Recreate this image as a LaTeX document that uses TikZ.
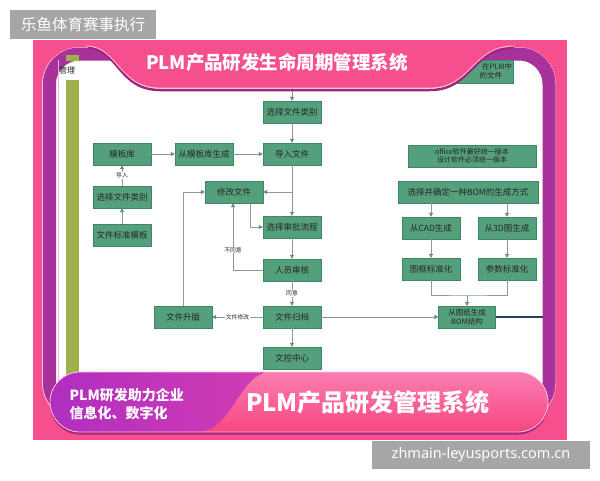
\documentclass[tikz,border=0pt]{standalone}
\usepackage{fontspec}
\setmainfont{Noto Sans CJK SC}
\newfontfamily\sitefont{Noto Sans}
\usetikzlibrary{arrows.meta,positioning}
\definecolor{plmpink}{HTML}{F64F8D}
\definecolor{plmpinklight}{HTML}{FA7DB2}
\definecolor{plmpurple}{HTML}{A8329C}
\definecolor{plmshadow}{HTML}{A3247E}
\definecolor{plmviolet}{HTML}{B02EC0}
\definecolor{plmmagenta}{HTML}{D23DB2}
\definecolor{plmrim}{HTML}{FFC2DC}
\definecolor{plmgreen}{HTML}{55A07C}
\definecolor{plmedge}{HTML}{3E8766}
\definecolor{plmline}{HTML}{8C9A94}
\definecolor{plmtip}{HTML}{628C78}
\definecolor{plmolive}{HTML}{9DB04B}
\definecolor{plmnavy}{HTML}{2B3A58}
\definecolor{plmgray}{HTML}{A6A6A6}

\begin{document}
\begin{tikzpicture}[x=1pt, y=-1pt,
    every node/.style={font=\fontsize{8.5}{10}\selectfont, text=black!85},
    flowbox/.style={rectangle, fill=plmgreen, draw=plmedge, line width=0.4pt, minimum width=58pt, minimum height=22pt, inner sep=1pt},
    flow/.style={draw=plmline, line width=0.6pt, -{Triangle[length=4pt, width=4pt, color=plmtip]}},
    tag/.style={font=\fontsize{5.8}{6.5}\selectfont, fill=white, inner sep=0.6pt}]
    \useasboundingbox (0,0) rectangle (600,480);
    \fill[white] (0,0) rectangle (600,480);
    \fill[plmpink] (33,40) rectangle (567,440);
    \draw[plmrim, line width=1pt, rounded corners=37pt] (42.5,47.5) rectangle (555.5,420);
    \draw[plmpurple, line width=13pt, fill=white, rounded corners=30pt] (49.5,54) rectangle (549,413);
    \draw[plmpurple!35, line width=0.8pt] (58,60) -- (58,400);
    \fill[plmolive] (66,55) rectangle (79,61);
    \fill[plmolive] (66,80) rectangle (79,395);
    \node[font=\fontsize{8}{9}\selectfont] (mgmt) at (67,70) {管理};

    \coordinate (topin) at (292,88);
    \node[flowbox, text width=88pt, minimum height=23pt, align=right, font=\fontsize{7.5}{9}\selectfont] (stored) at (468,71.5) {在PLM中\\的文件\hspace*{10pt}};
    \node[flowbox] (selcat) at (292,112) {选择文件类别};
    \node[flowbox] (tpllib) at (122,154) {模板库};
    \node[flowbox] (fromtpl) at (204,154) {从模板库生成};
    \node[flowbox] (import) at (292,154) {导入文件};
    \node[flowbox] (pickcat) at (122,197) {选择文件类别};
    \node[flowbox] (stdtpl) at (122,235) {文件标准模板};
    \node[flowbox] (modify) at (234,192) {修改文件};
    \node[flowbox] (selflow) at (292,227) {选择审批流程};
    \node[flowbox] (review) at (292,270) {人员审核};
    \node[flowbox] (archive) at (292,317) {文件归档};
    \node[flowbox] (upgrade) at (183,317) {文件升版};
    \node[flowbox] (docctrl) at (292,358) {文控中心};
    \node[flowbox, minimum width=128pt, align=center, font=\fontsize{7}{8.5}\selectfont] (office) at (472,156) {office软件最好统一版本\\设计软件必须统一版本};
    \node[flowbox, minimum width=140pt] (bomway) at (468,192) {选择并确定一种BOM的生成方式};
    \node[flowbox] (fromcad) at (431,228) {从CAD生成};
    \node[flowbox] (from3d) at (507,228) {从3D图生成};
    \node[flowbox] (framestd) at (431,269) {图框标准化};
    \node[flowbox] (paramstd) at (507,269) {参数标准化};
    \node[flowbox, minimum width=57pt, align=center, font=\fontsize{7.5}{8.5}\selectfont] (bom) at (467,317) {从图纸生成\\BOM结构};
    \coordinate (joint) at (467,295);
    \coordinate (navyend) at (543,317);

    \draw[flow] (topin) -- (selcat);
    \draw[flow] (selcat) -- (import);
    \draw[flow] (tpllib) -- (fromtpl);
    \draw[flow] (fromtpl) -- (import);
    \draw[flow] (stdtpl) -- (pickcat);
    \draw[flow] (pickcat) -- node[tag] {导入} (tpllib);
    \draw[flow] (import) -- (selflow);
    \draw[flow] (import.south |- modify) -- (modify);
    \draw[flow] ([xshift=16pt]modify.south) |- (selflow);
    \draw[flow] (selflow) -- (review);
    \draw[flow] (review.west) -| node[tag, pos=0.65] {不同意} ([xshift=-1pt]modify.south);
    \draw[flow] (review) -- node[tag] {同意} (archive);
    \draw[flow] (archive) -- node[tag] {文件修改} (upgrade);
    \draw[flow] (upgrade) |- (modify);
    \draw[flow] (archive) -- (docctrl);
    \draw[flow] (archive) -- (bom);
    \draw[flow] (bomway.south -| fromcad) -- (fromcad);
    \draw[flow] (bomway.south -| from3d) -- (from3d);
    \draw[flow] (fromcad) -- (framestd);
    \draw[flow] (from3d) -- (paramstd);
    \draw[plmline, line width=0.6pt] (framestd) |- (joint) -| (paramstd);
    \draw[flow] (joint) -- (bom);
    \draw[plmnavy, line width=2pt] (bom) -- (navyend);

    \draw[plmshadow, line width=2.5pt] (88,48) .. controls (118,48) and (118,90) .. (160,90) -- (430,90) .. controls (472,90) and (472,48) .. (514,48);
    \fill[plmpink] (86,40) -- (86,46) .. controls (118,46) and (118,88) .. (160,88) -- (430,88) .. controls (472,88) and (472,46) .. (514,46) -- (514,40) -- cycle;
    \draw[plmrim, line width=0.8pt] (86,46) .. controls (118,46) and (118,88) .. (160,88) -- (430,88) .. controls (472,88) and (472,46) .. (514,46);
    \node[text=white, font=\fontsize{18.5}{20}\selectfont\bfseries] (title) at (277,62) {PLM产品研发生命周期管理系统};

    \fill[plmshadow, rounded corners=30pt] (50,375) rectangle (548,434.5);
    \shade[top color=plmpinklight, bottom color=plmpink!90!red, rounded corners=30pt] (50,372) rectangle (548,432);
    \begin{scope}
        \clip[rounded corners=30pt] (50,372) rectangle (548,432);
        \shade[left color=plmviolet, right color=plmmagenta] (50,372) -- (266,372) .. controls (238,380) and (232,428) .. (200,432) -- (50,432) -- cycle;
    \end{scope}
    \draw[plmrim, line width=0.8pt, rounded corners=30pt] (50,372) rectangle (548,432);
    \node[anchor=west, align=left, text=white, font=\fontsize{14}{18}\selectfont\bfseries] (slogan) at (66,404) {PLM研发助力企业\\信息化、数字化};
    \node[text=white, font=\fontsize{24}{26}\selectfont\bfseries] (system) at (368,402) {PLM产品研发管理系统};

    \node[fill=plmgray, text=white, minimum width=146pt, minimum height=29pt, inner sep=0pt, font=\fontsize{15.5}{17}\selectfont] (brand) at (83,24.5) {乐鱼体育赛事执行};
    \node[fill=plmgray, text=white, minimum width=218pt, minimum height=28pt, inner sep=0pt, font=\sitefont\fontsize{14.5}{16}\selectfont] (site) at (481,455) {zhmain-leyusports.com.cn};
\end{tikzpicture}
\end{document}
